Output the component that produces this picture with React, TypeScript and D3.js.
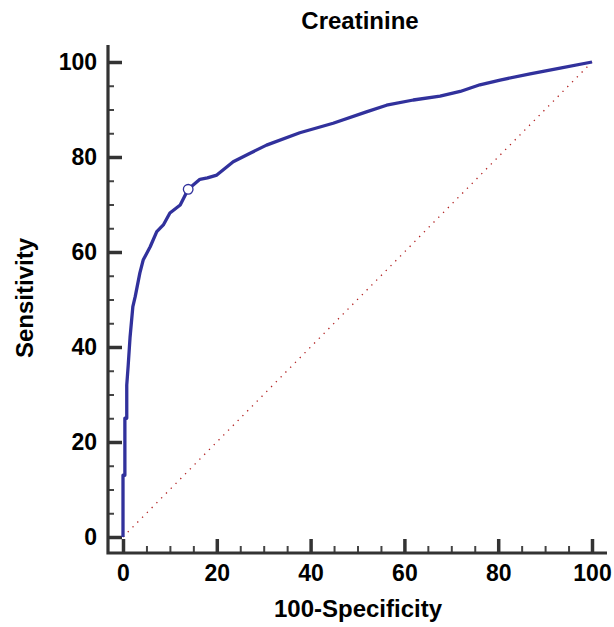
import React, { useRef, useEffect } from "react";
import * as d3 from "d3";

// ROC curve points (100-Specificity, Sensitivity)
const fpr = [0, 0, 0.4, 0.4, 0.8, 0.8, 1.1, 1.5, 2.1, 2.6, 3.6, 4.3, 5.8, 7.2, 8.6, 10, 12.2, 13.9, 16.4, 18, 20, 23.5, 27.1, 30.6, 37.7, 44.8, 51.9, 56.2, 61.9, 67.6, 71.9, 76.1, 80.4, 86.8, 93.2, 100];
const tpr = [0, 13, 13, 25, 25, 32, 36, 42, 48.5, 50.6, 55.6, 58.3, 61.1, 64.3, 65.7, 68.2, 69.9, 73.2, 75.3, 75.6, 76.2, 79, 80.8, 82.5, 85.1, 87.1, 89.5, 90.9, 92, 92.8, 93.8, 95.2, 96.2, 97.5, 98.7, 100];

// optimal criterion marker
const criterion = [13.9, 73.2];

const majorTicks = [0, 20, 40, 60, 80, 100];
const minorTicks = [5, 10, 15, 25, 30, 35, 45, 50, 55, 65, 70, 75, 85, 90, 95];

const title = "Creatinine";
const xTitle = "100-Specificity";
const yTitle = "Sensitivity";

const W = 614;
const H = 627;
const FONT = "'Liberation Sans', Arial, sans-serif";
const AXIS = "#333333";
const BLUE = "#31319c";

export default function App() {
  const svgRef = useRef<SVGSVGElement>(null);

  useEffect(() => {
    document.body.style.margin = "0";
    if (!svgRef.current) return;
    const svg = d3.select(svgRef.current);
    svg.selectAll("*").remove();

    const x = d3.scaleLinear().domain([0, 100]).range([123, 592]);
    const y = d3.scaleLinear().domain([0, 100]).range([537, 62]);
    const axisX = 108; // left axis line
    const axisY = 553; // bottom axis line

    // title
    svg
      .append("text")
      .attr("x", 360)
      .attr("y", 29)
      .attr("text-anchor", "middle")
      .attr("font-family", FONT)
      .attr("font-weight", "bold")
      .attr("font-size", 24)
      .text(title);

    // diagonal reference line
    svg
      .append("line")
      .attr("x1", x(0))
      .attr("y1", y(0))
      .attr("x2", x(100))
      .attr("y2", y(100))
      .attr("stroke", "#b22222")
      .attr("stroke-width", 1.3)
      .attr("stroke-dasharray", "1.3,5.5");

    // y axis
    const yMajor = svg.append("g").attr("transform", `translate(${axisX},0)`);
    yMajor.call(
      d3.axisLeft(y).tickValues(majorTicks).tickSize(-14).tickPadding(11).tickFormat(d3.format("d"))
    );
    const yMinor = svg.append("g").attr("transform", `translate(${axisX},0)`);
    yMinor.call(d3.axisLeft(y).tickValues(minorTicks).tickSize(-6).tickFormat(() => ""));

    // x axis
    const xMajor = svg.append("g").attr("transform", `translate(0,${axisY})`);
    xMajor.call(
      d3.axisBottom(x).tickValues(majorTicks).tickSize(-14).tickPadding(12).tickFormat(d3.format("d"))
    );
    const xMinor = svg.append("g").attr("transform", `translate(0,${axisY})`);
    xMinor.call(d3.axisBottom(x).tickValues(minorTicks).tickSize(-7).tickFormat(() => ""));

    [yMajor, yMinor, xMajor, xMinor].forEach((g) => g.select(".domain").remove());
    svg.selectAll(".tick line").attr("stroke", AXIS);
    yMajor.selectAll(".tick line").attr("stroke-width", 3.5);
    xMajor.selectAll(".tick line").attr("stroke-width", 3.5);
    yMinor.selectAll(".tick line").attr("stroke-width", 2).attr("stroke", "#444");
    xMinor.selectAll(".tick line").attr("stroke-width", 2).attr("stroke", "#444");
    svg
      .selectAll(".tick text")
      .attr("font-family", FONT)
      .attr("font-weight", "bold")
      .attr("font-size", 23)
      .attr("fill", "#000");

    // axis lines
    svg
      .append("path")
      .attr("d", `M${axisX},45 V${axisY} H607`)
      .attr("fill", "none")
      .attr("stroke", AXIS)
      .attr("stroke-width", 3.2);

    // ROC curve
    const pts: [number, number][] = fpr.map((f, i) => [f, tpr[i]]);
    const line = d3
      .line<[number, number]>()
      .x((d) => x(d[0]))
      .y((d) => y(d[1]))
      .curve(d3.curveLinear);
    svg
      .append("path")
      .attr("d", line(pts))
      .attr("fill", "none")
      .attr("stroke", BLUE)
      .attr("stroke-width", 3.3)
      .attr("stroke-linejoin", "round");

    svg
      .append("circle")
      .attr("cx", x(criterion[0]))
      .attr("cy", y(criterion[1]))
      .attr("r", 4.8)
      .attr("fill", "#fff")
      .attr("stroke", BLUE)
      .attr("stroke-width", 1.3);

    // axis titles
    svg
      .append("text")
      .attr("x", 358)
      .attr("y", 617)
      .attr("text-anchor", "middle")
      .attr("font-family", FONT)
      .attr("font-weight", "bold")
      .attr("font-size", 24)
      .text(xTitle);

    svg
      .append("text")
      .attr("transform", "translate(33,298) rotate(-90)")
      .attr("text-anchor", "middle")
      .attr("font-family", FONT)
      .attr("font-weight", "bold")
      .attr("font-size", 24)
      .text(yTitle);
  }, []);

  return <svg ref={svgRef} width={W} height={H} style={{ display: "block", background: "#fff" }} />;
}
